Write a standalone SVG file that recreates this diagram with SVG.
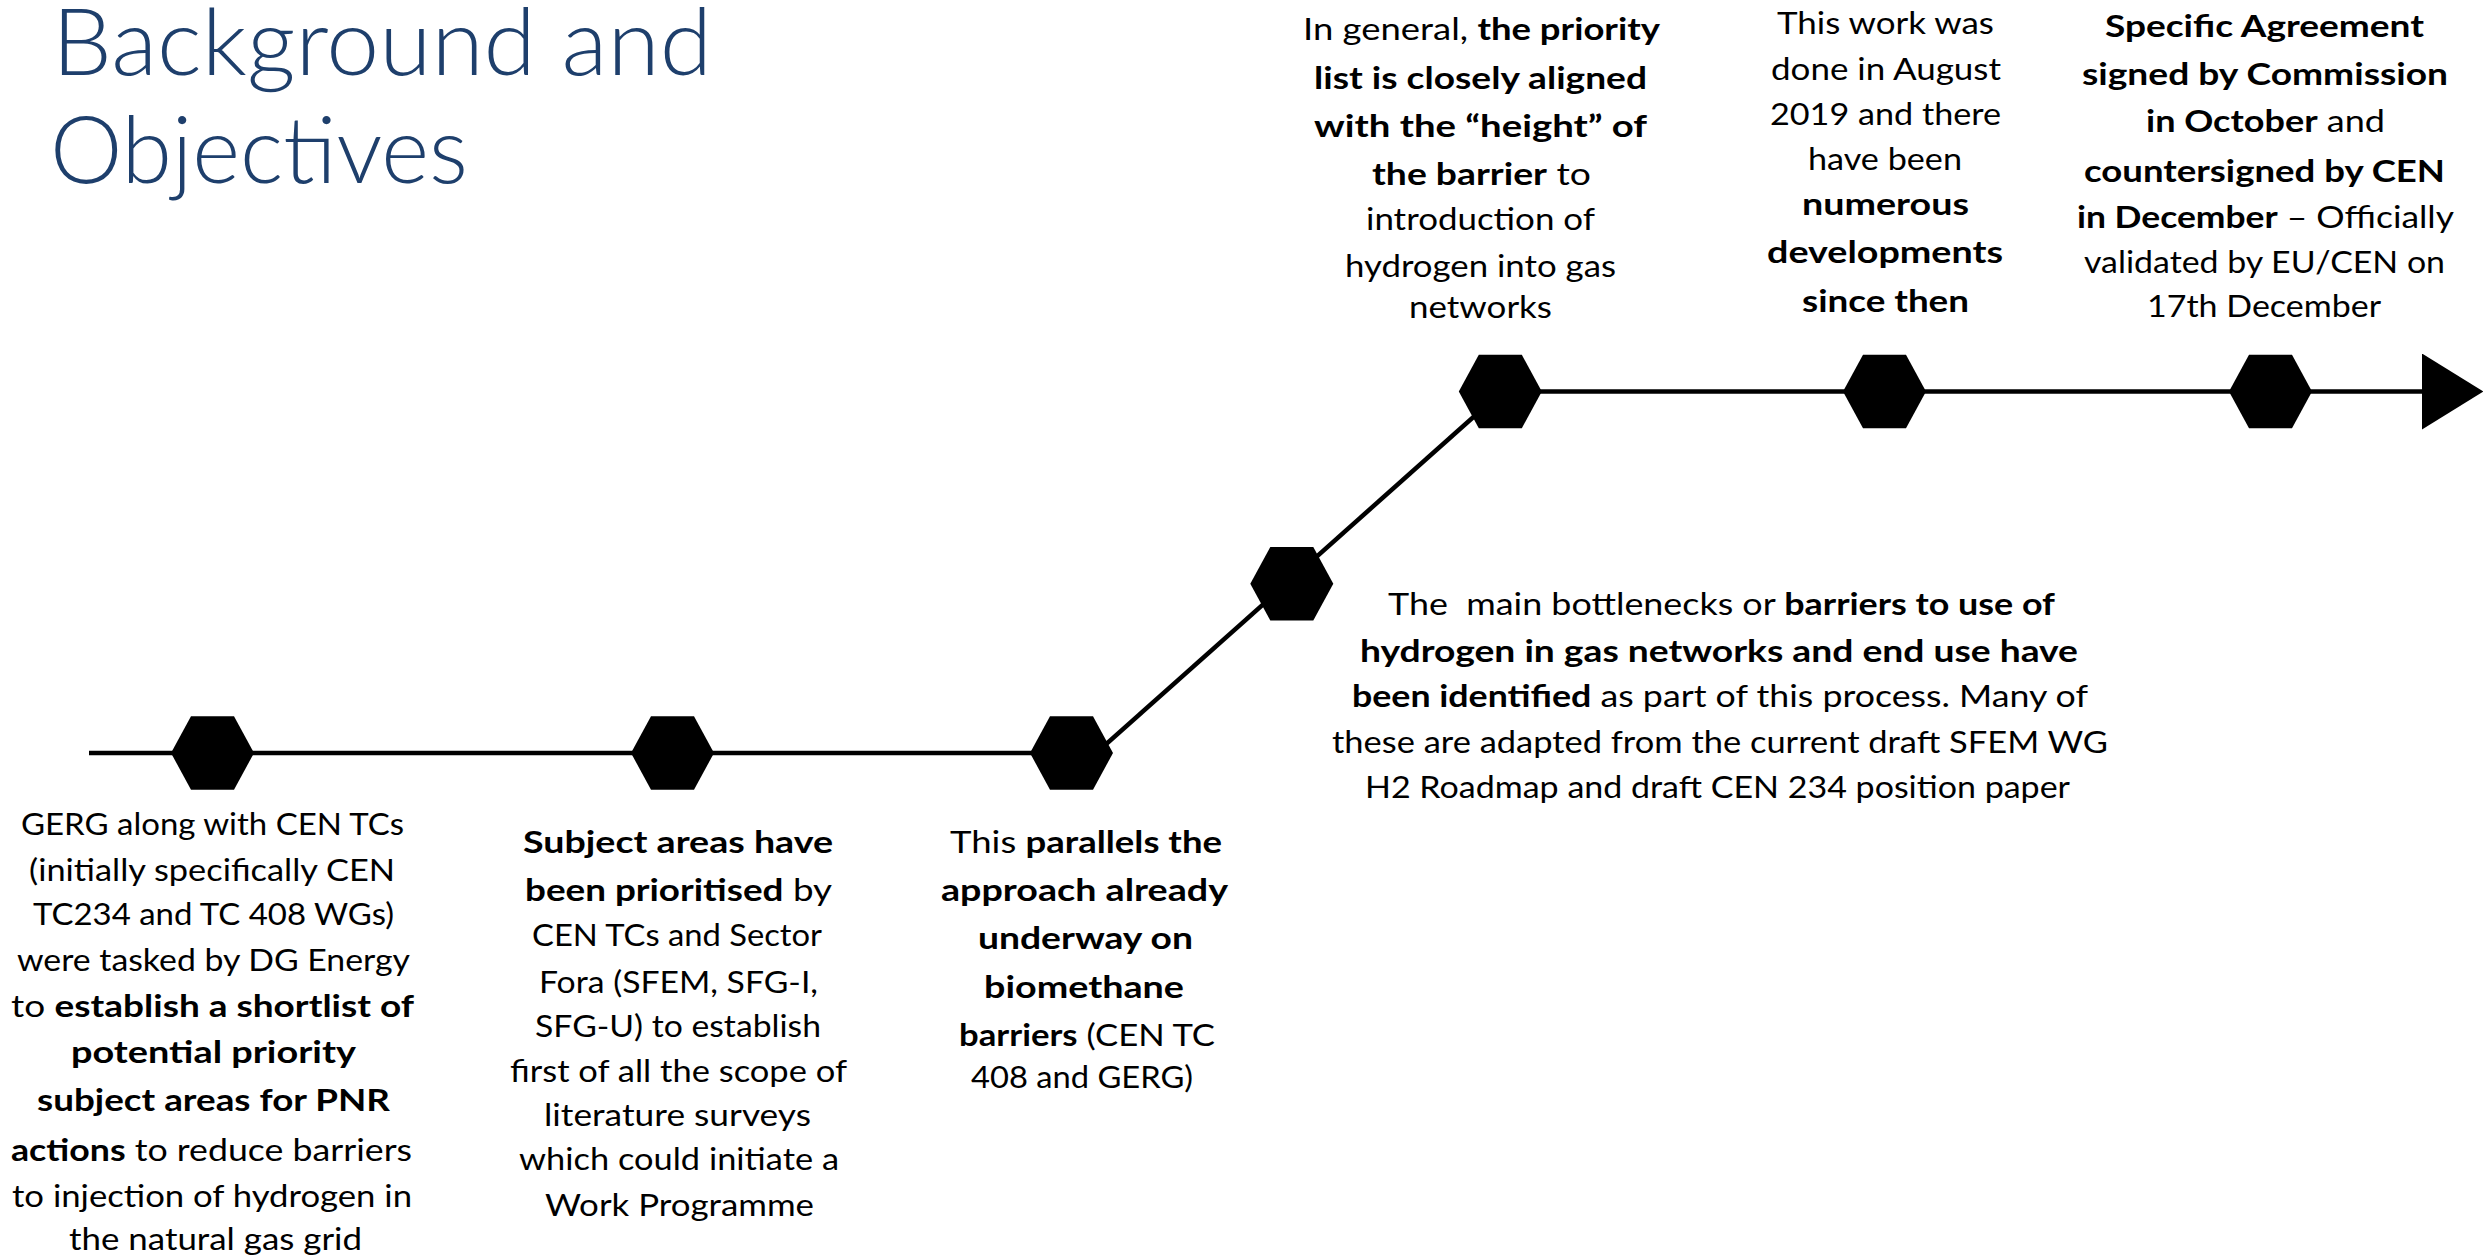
<svg xmlns="http://www.w3.org/2000/svg" width="2483" height="1258" viewBox="0 0 2483 1258">
  <style>
    .title { font-family: Lato, "Liberation Sans", sans-serif; font-weight: 300; font-size: 93px; fill: #1E3F6C; }
    .t { font-family: Lato, "Liberation Sans", sans-serif; font-size: 31px; fill: #000; }
    .b { font-weight: 700; }
    .wire { fill: none; stroke: #000; stroke-width: 4.5; }
    .hex { fill: #000; }
  </style>
  <defs>
    <polygon id="hexagon" points="-41.5,0 -21.5,-36.7 21.5,-36.7 41.5,0 21.5,36.7 -21.5,36.7"/>
    <marker id="arrowhead" markerUnits="userSpaceOnUse" viewBox="0 0 62 76" markerWidth="62" markerHeight="76" refX="0" refY="38" orient="auto">
      <polygon points="0,0 61.3,38 0,76" fill="#000"/>
    </marker>
  </defs>

  <rect width="2483" height="1258" fill="#fff"/>

  <g id="title">
    <text class="title" x="52" y="75" textLength="660" lengthAdjust="spacingAndGlyphs">Background and</text>
    <text class="title" x="50" y="183" textLength="418" lengthAdjust="spacingAndGlyphs">Objectives</text>
  </g>

  <!-- timeline wires -->
  <g id="connectors">
    <path class="wire" d="M89 753 H1071"/>
    <path class="wire" d="M1085 763 L1497 396"/>
    <path class="wire" d="M1500 391.5 H2422" marker-end="url(#arrowhead)"/>
  </g>

  <g id="step1">
    <use href="#hexagon" class="hex" x="212.5" y="753"/>
    <g class="t">
      <text x="21" y="835" textLength="383" lengthAdjust="spacingAndGlyphs">GERG along with CEN TCs</text>
      <text x="29" y="881" textLength="366" lengthAdjust="spacingAndGlyphs">(initially specifically CEN</text>
      <text x="33" y="925" textLength="361" lengthAdjust="spacingAndGlyphs">TC234 and TC 408 WGs)</text>
      <text x="17" y="971" textLength="393" lengthAdjust="spacingAndGlyphs">were tasked by DG Energy</text>
      <text x="11" y="1017" textLength="403" lengthAdjust="spacingAndGlyphs">to <tspan class="b">establish a shortlist of</tspan></text>
      <text x="71" y="1063" textLength="285" lengthAdjust="spacingAndGlyphs" class="b">potential priority</text>
      <text x="37" y="1111" textLength="353" lengthAdjust="spacingAndGlyphs" class="b">subject areas for PNR</text>
      <text x="11" y="1161" textLength="401" lengthAdjust="spacingAndGlyphs"><tspan class="b">actions</tspan> to reduce barriers</text>
      <text x="12" y="1207" textLength="400" lengthAdjust="spacingAndGlyphs">to injection of hydrogen in</text>
      <text x="69" y="1250" textLength="293" lengthAdjust="spacingAndGlyphs">the natural gas grid</text>
    </g>
  </g>

  <g id="step2">
    <use href="#hexagon" class="hex" x="672.5" y="753"/>
    <g class="t">
      <text x="523" y="853" textLength="310" lengthAdjust="spacingAndGlyphs" class="b">Subject areas have</text>
      <text x="525" y="901" textLength="307" lengthAdjust="spacingAndGlyphs"><tspan class="b">been prioritised</tspan> by</text>
      <text x="532" y="946" textLength="290" lengthAdjust="spacingAndGlyphs">CEN TCs and Sector</text>
      <text x="539" y="993" textLength="279" lengthAdjust="spacingAndGlyphs">Fora (SFEM, SFG-I,</text>
      <text x="535" y="1037" textLength="286" lengthAdjust="spacingAndGlyphs">SFG-U) to establish</text>
      <text x="510" y="1082" textLength="337" lengthAdjust="spacingAndGlyphs">first of all the scope of</text>
      <text x="544" y="1126" textLength="267" lengthAdjust="spacingAndGlyphs">literature surveys</text>
      <text x="519" y="1170" textLength="320" lengthAdjust="spacingAndGlyphs">which could initiate a</text>
      <text x="545" y="1216" textLength="269" lengthAdjust="spacingAndGlyphs">Work Programme</text>
    </g>
  </g>

  <g id="step3">
    <use href="#hexagon" class="hex" x="1071.5" y="753"/>
    <g class="t">
      <text x="950" y="853" textLength="272" lengthAdjust="spacingAndGlyphs">This <tspan class="b">parallels the</tspan></text>
      <text x="941" y="901" textLength="287" lengthAdjust="spacingAndGlyphs" class="b">approach already</text>
      <text x="978" y="949" textLength="215" lengthAdjust="spacingAndGlyphs" class="b">underway on</text>
      <text x="984" y="998" textLength="200" lengthAdjust="spacingAndGlyphs" class="b">biomethane</text>
      <text x="959" y="1046" textLength="256" lengthAdjust="spacingAndGlyphs"><tspan class="b">barriers</tspan> (CEN TC</text>
      <text x="971" y="1088" textLength="222" lengthAdjust="spacingAndGlyphs">408 and GERG)</text>
    </g>
  </g>

  <g id="step4">
    <use href="#hexagon" class="hex" x="1291.8" y="583.7"/>
    <g class="t">
      <text x="1388" y="615" textLength="667" lengthAdjust="spacingAndGlyphs" style="white-space:pre">The  main bottlenecks or <tspan class="b">barriers to use of</tspan></text>
      <text x="1360" y="662" textLength="718" lengthAdjust="spacingAndGlyphs" class="b">hydrogen in gas networks and end use have</text>
      <text x="1352" y="707" textLength="736" lengthAdjust="spacingAndGlyphs"><tspan class="b">been identified</tspan> as part of this process. Many of</text>
      <text x="1332" y="753" textLength="776" lengthAdjust="spacingAndGlyphs">these are adapted from the current draft SFEM WG</text>
      <text x="1365" y="798" textLength="705" lengthAdjust="spacingAndGlyphs">H2 Roadmap and draft CEN 234 position paper</text>
    </g>
  </g>

  <g id="step5">
    <use href="#hexagon" class="hex" x="1500.3" y="391.5"/>
    <g class="t">
      <text x="1303" y="40" textLength="357" lengthAdjust="spacingAndGlyphs">In general, <tspan class="b">the priority</tspan></text>
      <text x="1314" y="89" textLength="333" lengthAdjust="spacingAndGlyphs" class="b">list is closely aligned</text>
      <text x="1314" y="137" textLength="333" lengthAdjust="spacingAndGlyphs" class="b">with the “height” of</text>
      <text x="1372" y="185" textLength="219" lengthAdjust="spacingAndGlyphs"><tspan class="b">the barrier</tspan> to</text>
      <text x="1366" y="230" textLength="229" lengthAdjust="spacingAndGlyphs">introduction of</text>
      <text x="1345" y="277" textLength="271" lengthAdjust="spacingAndGlyphs">hydrogen into gas</text>
      <text x="1409" y="318" textLength="143" lengthAdjust="spacingAndGlyphs">networks</text>
    </g>
  </g>

  <g id="step6">
    <use href="#hexagon" class="hex" x="1884.5" y="391.5"/>
    <g class="t">
      <text x="1777" y="34" textLength="217" lengthAdjust="spacingAndGlyphs">This work was</text>
      <text x="1771" y="80" textLength="230" lengthAdjust="spacingAndGlyphs">done in August</text>
      <text x="1770" y="125" textLength="231" lengthAdjust="spacingAndGlyphs">2019 and there</text>
      <text x="1808" y="170" textLength="154" lengthAdjust="spacingAndGlyphs">have been</text>
      <text x="1802" y="215" textLength="167" lengthAdjust="spacingAndGlyphs" class="b">numerous</text>
      <text x="1767" y="263" textLength="236" lengthAdjust="spacingAndGlyphs" class="b">developments</text>
      <text x="1802" y="312" textLength="167" lengthAdjust="spacingAndGlyphs" class="b">since then</text>
    </g>
  </g>

  <g id="step7">
    <use href="#hexagon" class="hex" x="2270.5" y="391.5"/>
    <g class="t">
      <text x="2105" y="37" textLength="319" lengthAdjust="spacingAndGlyphs" class="b">Specific Agreement</text>
      <text x="2082" y="85" textLength="366" lengthAdjust="spacingAndGlyphs" class="b">signed by Commission</text>
      <text x="2146" y="132" textLength="239" lengthAdjust="spacingAndGlyphs"><tspan class="b">in October</tspan> and</text>
      <text x="2084" y="182" textLength="361" lengthAdjust="spacingAndGlyphs" class="b">countersigned by CEN</text>
      <text x="2077" y="228" textLength="377" lengthAdjust="spacingAndGlyphs"><tspan class="b">in December</tspan> – Officially</text>
      <text x="2084" y="273" textLength="361" lengthAdjust="spacingAndGlyphs">validated by EU/CEN on</text>
      <text x="2147" y="317" textLength="234" lengthAdjust="spacingAndGlyphs">17th December</text>
    </g>
  </g>
</svg>
